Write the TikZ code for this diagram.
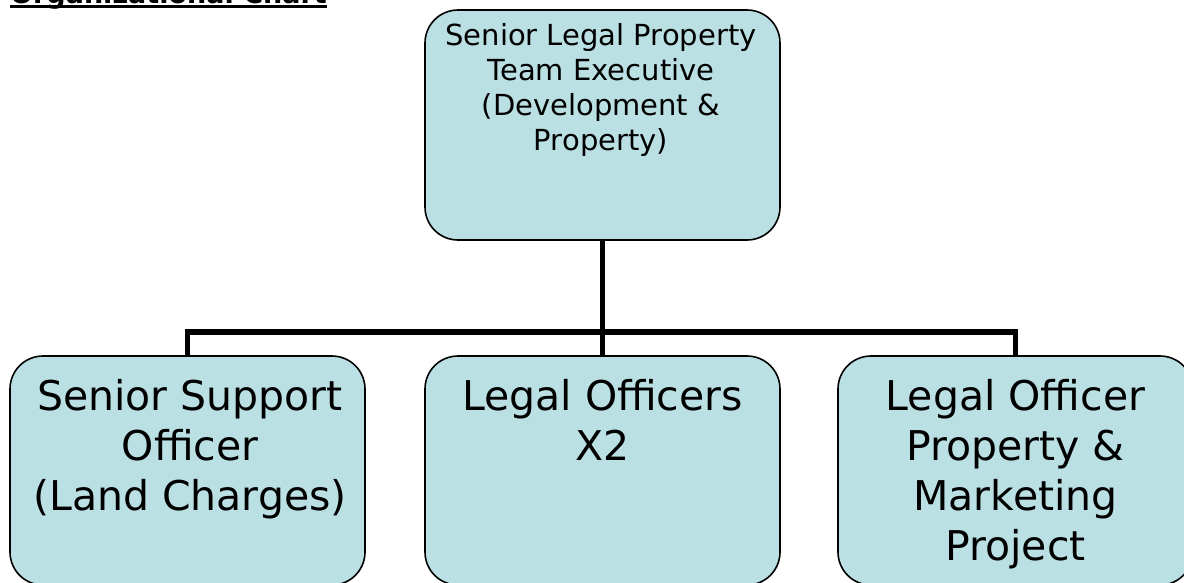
\documentclass[tikz,border=0pt]{standalone}
\usepackage{fontspec}
\setmainfont{DejaVu Sans}
\definecolor{boxfill}{RGB}{187,224,228}
\begin{document}
\begin{tikzpicture}[x=1pt,y=-1pt,
  box/.style={draw=black, line width=1.6pt, fill=boxfill, rounded corners=33pt, minimum width=355pt, inner sep=0pt},
  topbox/.style={box, minimum height=230pt},
  lowbox/.style={box, minimum height=229pt},
  toptext/.style={anchor=north, align=center, inner sep=0pt, font=\fontsize{29}{35}\selectfont},
  lowtext/.style={anchor=north, align=center, inner sep=0pt, font=\fontsize{41}{50}\selectfont},
  link/.style={line width=5.5pt, line join=miter}]
\useasboundingbox (0,0) rectangle (1184,582);
% title
\node[anchor=base west, inner sep=0pt, font=\bfseries\fontsize{27}{32}\selectfont] (title) at (10,3) {Organizational Chart};
\draw[line width=3pt] ([yshift=-3.5pt]title.base west) -- ([yshift=-3.5pt]title.base east);
% boxes
\node[topbox] (top) at (602.5,125) {};
\node[lowbox] (left) at (187.5,470.5) {};
\node[lowbox] (mid) at (602.5,470.5) {};
\node[lowbox] (right) at (1015.5,470.5) {};
% texts
\node[toptext] (toplabel) at (601,20) {\rule{0pt}{25pt}Senior Legal Property\\Team Executive\\(Development \&\\Property)};
\node[lowtext] (leftlabel) at (190,375) {\rule{0pt}{35pt}Senior Support\\Officer\\(Land Charges)};
\node[lowtext] (midlabel) at (602.5,375) {\rule{0pt}{35pt}Legal Officers\\X2};
\node[lowtext] (rightlabel) at (1015.5,375) {\rule{0pt}{35pt}Legal Officer\\Property \&\\Marketing\\Project};
% connectors
\coordinate (bar) at (602.5,332);
\draw[link] (left.north) |- (bar) -| (right.north);
\draw[link] (top.south) -- (mid.north);
\end{tikzpicture}
\end{document}
